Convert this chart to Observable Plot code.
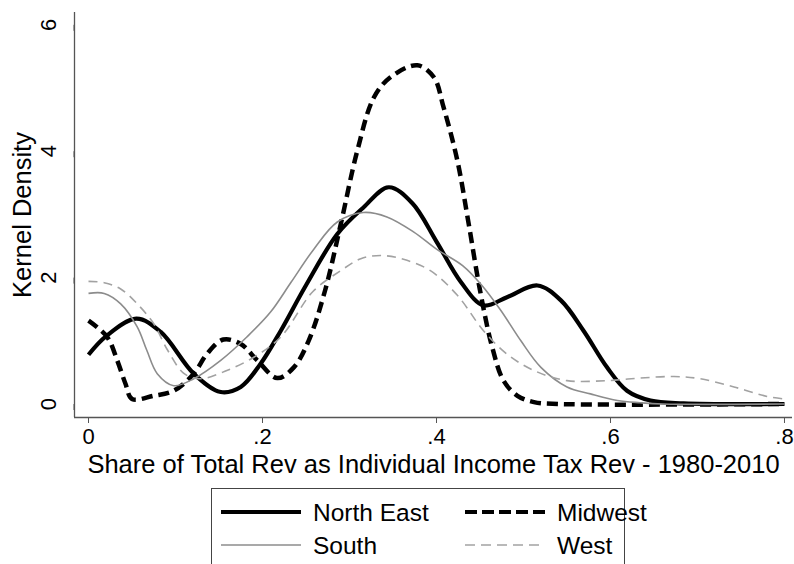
<!DOCTYPE html>
<html><head><meta charset="utf-8">
<script src="https://cdn.jsdelivr.net/npm/d3@7"></script>
<script src="https://cdn.jsdelivr.net/npm/@observablehq/plot@0.6"></script>
<style>
body{margin:0;background:#fff;overflow:hidden;font-family:"Liberation Sans",Arial,Helvetica,sans-serif;}
#wrap{position:relative;width:794px;height:564px;overflow:hidden;background:#fff;}
#legend{position:absolute;left:211px;top:488px;width:414px;height:100px;border:1px solid #444;box-sizing:border-box;background:#fff;overflow:visible;}
#legend svg{overflow:visible;}
</style></head><body><div id="wrap"></div>
<script>
// ---- data ----
const seriesNames = ["North East", "Midwest", "South", "West"];

const neX = [0.0, 0.02, 0.055, 0.083, 0.121, 0.152, 0.175, 0.198, 0.221, 0.25, 0.286, 0.316, 0.345, 0.372, 0.40, 0.428, 0.454, 0.481, 0.516, 0.543, 0.569, 0.596, 0.619, 0.646, 0.684, 0.8];
const neY = [0.78, 1.07, 1.35, 1.14, 0.48, 0.19, 0.27, 0.64, 1.16, 1.88, 2.69, 3.11, 3.43, 3.18, 2.57, 1.93, 1.56, 1.69, 1.875, 1.64, 1.16, 0.58, 0.21, 0.055, 0.01, 0.0];

const mwX = [0.0, 0.0215, 0.033, 0.0425, 0.05, 0.075, 0.098, 0.121, 0.136, 0.155, 0.175, 0.194, 0.217, 0.236, 0.253, 0.272, 0.29, 0.309, 0.328, 0.347, 0.378, 0.397, 0.408, 0.424, 0.437, 0.450, 0.464, 0.477, 0.493, 0.512, 0.54, 0.8];
const mwY = [1.32, 1.06, 0.69, 0.32, 0.08, 0.13, 0.21, 0.48, 0.79, 1.02, 0.95, 0.69, 0.41, 0.58, 1.00, 1.80, 2.85, 4.01, 4.85, 5.17, 5.36, 5.17, 4.70, 3.85, 2.85, 1.80, 0.90, 0.37, 0.13, 0.03, 0.0, 0.0];

const soX = [0.0, 0.018, 0.037, 0.056, 0.067, 0.079, 0.098, 0.121, 0.152, 0.182, 0.209, 0.233, 0.259, 0.286, 0.316, 0.343, 0.374, 0.40, 0.43, 0.452, 0.474, 0.497, 0.52, 0.55, 0.577, 0.608, 0.634, 0.66, 0.8];
const soY = [1.75, 1.75, 1.585, 1.22, 0.85, 0.48, 0.29, 0.40, 0.69, 1.06, 1.45, 1.93, 2.45, 2.88, 3.03, 2.96, 2.72, 2.45, 2.19, 1.88, 1.48, 1.00, 0.58, 0.27, 0.16, 0.055, 0.02, 0.0, 0.0];

const weX = [0.0, 0.018, 0.037, 0.056, 0.075, 0.091, 0.110, 0.129, 0.159, 0.19, 0.221, 0.258, 0.29, 0.313, 0.336, 0.362, 0.393, 0.424, 0.454, 0.481, 0.512, 0.55, 0.596, 0.634, 0.673, 0.703, 0.742, 0.78, 0.8];
const weY = [1.94, 1.92, 1.82, 1.585, 1.27, 0.85, 0.48, 0.40, 0.53, 0.74, 1.06, 1.78, 2.11, 2.30, 2.35, 2.29, 2.11, 1.72, 1.16, 0.79, 0.53, 0.37, 0.37, 0.41, 0.435, 0.40, 0.27, 0.12, 0.08];

const xTicks = [0, 0.2, 0.4, 0.6, 0.8];
const xTickLabels = ["0", ".2", ".4", ".6", ".8"];
const yTicks = [0, 2, 4, 6];
const yTickLabels = ["0", "2", "4", "6"];
const xDomain = [-0.0161, 0.8092];
const yDomain = [-0.2136, 6.195];
const xTitle = "Share of Total Rev as Individual Income Tax Rev - 1980-2010";
const yTitle = "Kernel Density";

// ---- styles ----
const styles = {
  "North East": {stroke: "#000", strokeWidth: 4.2, dash: null},
  "Midwest": {stroke: "#000", strokeWidth: 4.5, dash: "11,6"},
  "South": {stroke: "#8c8c8c", strokeWidth: 1.6, dash: null},
  "West": {stroke: "#a2a2a2", strokeWidth: 1.6, dash: "9,6"}
};

const tables = {
  "North East": neX.map((x, i) => ({x, y: neY[i]})),
  "Midwest": mwX.map((x, i) => ({x, y: mwY[i]})),
  "South": soX.map((x, i) => ({x, y: soY[i]})),
  "West": weX.map((x, i) => ({x, y: weY[i]}))
};

const FONT = "Liberation Sans, Arial, Helvetica, sans-serif";

const lineMarks = seriesNames.map(name => Plot.line(tables[name], {
  x: "x", y: "y", curve: "catmull-rom",
  stroke: styles[name].stroke, strokeWidth: styles[name].strokeWidth,
  strokeDasharray: styles[name].dash, strokeLinejoin: "round", strokeLinecap: "butt"
}));

const chart = Plot.plot({
  width: 794, height: 480,
  marginLeft: 74, marginRight: 2, marginTop: 12, marginBottom: 63,
  style: {fontFamily: FONT, background: "#fff", overflow: "visible"},
  x: {domain: xDomain},
  y: {domain: yDomain},
  marks: [
    ...lineMarks,
    Plot.ruleX([xDomain[0]], {stroke: "#555", strokeWidth: 1.3}),
    Plot.ruleY([yDomain[0]], {stroke: "#555", strokeWidth: 1.3}),
    Plot.axisX({ticks: xTicks, tickFormat: d => xTickLabels[xTicks.indexOf(d)], tickSize: 6, tickPadding: 5,
      fontSize: 22, stroke: "#555", fill: "#000", label: null}),
    Plot.axisY({ticks: yTicks, tickFormat: d => yTickLabels[yTicks.indexOf(d)], tickSize: 6, tickPadding: 20, rotate: -90, textAnchor: "middle",
      fontSize: 22, stroke: "#555", fill: "#000", label: null}),
    Plot.text([xTitle], {text: d => d, frameAnchor: "bottom", dy: 47, fontSize: 25.5, fill: "#000", textAnchor: "middle", lineAnchor: "middle"}),
    Plot.text([yTitle], {text: d => d, frameAnchor: "left", dx: -52, rotate: -90, fontSize: 25.5, fill: "#000", textAnchor: "middle", lineAnchor: "middle"})
  ]
});

const wrap = document.getElementById("wrap");
wrap.appendChild(chart);

// ---- legend (below the plot) ----
const legend = document.createElement("div");
legend.id = "legend";
wrap.appendChild(legend);
const lsvg = d3.select(legend).append("svg").attr("width", 412).attr("height", 98)
  .style("font-family", FONT);
const legendPos = [
  {name: "North East", x: 9, y: 23},
  {name: "Midwest", x: 253, y: 23},
  {name: "South", x: 9, y: 56},
  {name: "West", x: 253, y: 56}
];
legendPos.forEach(p => {
  const s = styles[p.name];
  lsvg.append("line").attr("x1", p.x).attr("x2", p.x + 80).attr("y1", p.y).attr("y2", p.y)
    .attr("stroke", s.stroke).attr("stroke-width", s.strokeWidth >= 4 ? 4 : s.strokeWidth)
    .attr("stroke-dasharray", p.name === "Midwest" ? "12,5" : (s.dash ? "10,6" : null));
  lsvg.append("text").attr("x", p.x + 92).attr("y", p.y).attr("dy", "0.35em")
    .attr("font-size", 24.5).attr("fill", "#000").text(p.name);
});
</script>
</body></html>
